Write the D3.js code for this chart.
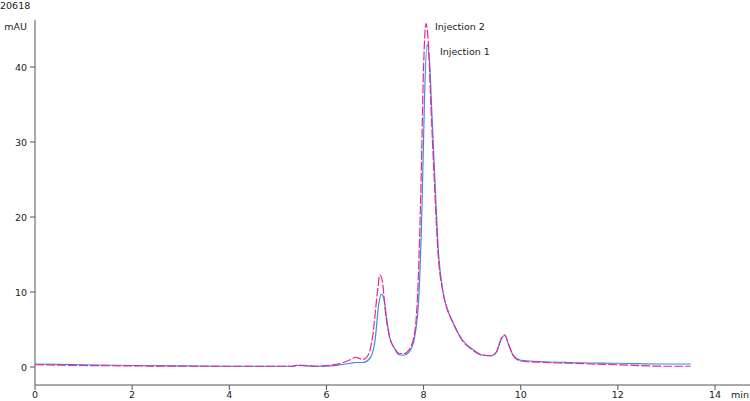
<!DOCTYPE html>
<html><head><meta charset="utf-8">
<script src="https://cdn.jsdelivr.net/npm/d3@7"></script>
<style>body{margin:0;background:#fff}text{font-family:"DejaVu Sans",sans-serif}</style>
</head><body>
<script>
// values
const inj2T = [0,1,2,3,4,5,5.3,5.4,5.8,6.0,6.3,6.5,6.6,6.75,6.85,6.95,7.05,7.1,7.15,7.22,7.3,7.4,7.5,7.6,7.7,7.8,7.88,7.95,8.0,8.05,8.1,8.15,8.22,8.3,8.4,8.5,8.6,8.8,9.0,9.2,9.4,9.5,9.6,9.67,9.75,9.85,10.0,10.5,11,12,13,13.5];
const inj2V = [0.3,0.2,0.15,0.1,0.1,0.1,0.1,0.25,0.1,0.2,0.5,1.0,1.3,1.0,1.5,4,10,12.3,11.5,7,4,2.5,1.8,1.8,2.3,4,10,25,40,45.8,43,35,25,15,10,7.5,6,3.5,2.3,1.6,1.5,2,3.8,4.3,3,1.5,0.8,0.6,0.5,0.3,0.1,0.1];
const inj1T = [0,1,2,3,4,5,5.3,5.4,5.8,6.0,6.3,6.5,6.6,6.75,6.9,7.0,7.08,7.13,7.18,7.25,7.3,7.4,7.5,7.6,7.7,7.8,7.9,7.97,8.02,8.07,8.12,8.17,8.24,8.3,8.4,8.5,8.6,8.8,9.0,9.2,9.4,9.5,9.6,9.67,9.75,9.85,10.0,10.5,11,12,13,13.5];
const inj1V = [0.4,0.3,0.2,0.15,0.1,0.1,0.1,0.2,0.1,0.1,0.3,0.5,0.6,0.6,1.2,3.5,8.5,9.7,9.2,6,4,2.5,1.6,1.6,2,3.5,9,22,36,43,41,34,24,16,10,7.5,6,3.6,2.4,1.6,1.5,2,3.7,4.2,3,1.5,0.9,0.7,0.6,0.5,0.4,0.4];
const xTicks = [0,2,4,6,8,10,12,14];
const yTicks = [0,10,20,30,40];

const W = 750, H = 401;
const svg = d3.select("body").append("svg").attr("width", W).attr("height", H);
const x = d3.scaleLinear().domain([0, 14]).range([35, 715]);
const y = d3.scaleLinear().domain([0, 40]).range([367, 67]);
const axisCol = "#555";
const fs = 9.5;

// axes
svg.append("line").attr("x1", 35).attr("x2", 35).attr("y1", 20).attr("y2", 385).attr("stroke", axisCol);
svg.append("line").attr("x1", 35).attr("x2", 750).attr("y1", 385).attr("y2", 385).attr("stroke", axisCol);
yTicks.forEach(t => {
  svg.append("line").attr("x1", 30).attr("x2", 35).attr("y1", y(t)).attr("y2", y(t)).attr("stroke", axisCol);
  svg.append("text").attr("x", 27).attr("y", y(t) + 3.5).attr("text-anchor", "end").attr("font-size", fs).attr("fill", "#222").text(t);
});
xTicks.forEach(t => {
  svg.append("line").attr("x1", x(t)).attr("x2", x(t)).attr("y1", 385).attr("y2", 390).attr("stroke", axisCol);
  svg.append("text").attr("x", x(t)).attr("y", 398).attr("text-anchor", "middle").attr("font-size", fs).attr("fill", "#222").text(t);
});
svg.append("text").attr("x", 731).attr("y", 398).attr("font-size", fs).attr("fill", "#222").text("min");
svg.append("text").attr("x", 27).attr("y", 30).attr("text-anchor", "end").attr("font-size", fs).attr("fill", "#222").text("mAU");
svg.append("text").attr("x", 0).attr("y", 9).attr("font-size", fs).attr("fill", "#222").text("20618");

const line = d3.line().x(d => x(d[0])).y(d => y(d[1])).curve(d3.curveMonotoneX);
svg.append("path").datum(d3.zip(inj1T, inj1V)).attr("d", line).attr("fill", "none").attr("stroke", "#3b8fd6").attr("stroke-width", 1.2);
svg.append("path").datum(d3.zip(inj2T, inj2V)).attr("d", line).attr("fill", "none").attr("stroke", "#e8259c").attr("stroke-width", 1.2).attr("stroke-dasharray", "9,2");

svg.append("text").attr("x", 435).attr("y", 30).attr("font-size", fs).attr("fill", "#222").text("Injection 2");
svg.append("text").attr("x", 440).attr("y", 55).attr("font-size", fs).attr("fill", "#222").text("Injection 1");
</script>
</body></html>
